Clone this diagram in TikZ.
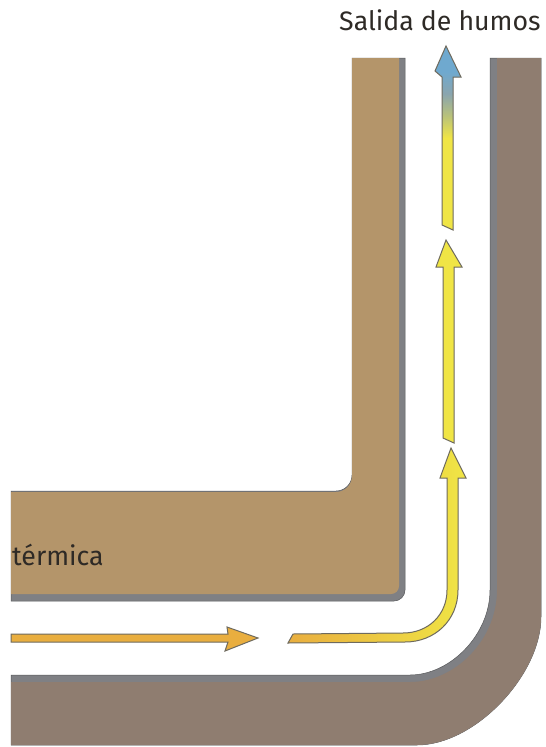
\documentclass[tikz,border=0pt]{standalone}
\usepackage{fontspec}
\setmainfont{Fira Sans}
\definecolor{tan1}{HTML}{B4956A}
\definecolor{brown1}{HTML}{8F7D70}
\definecolor{band}{HTML}{7F8084}
\definecolor{edge}{HTML}{6E6A5E}
\definecolor{ink}{HTML}{2E2A26}
\definecolor{orange1}{HTML}{E9AE3F}
\definecolor{yellow1}{HTML}{F0E545}
\definecolor{blue1}{HTML}{6FA9CF}
\definecolor{midA}{HTML}{B9C27A}
\definecolor{midB}{HTML}{8AA5AE}
\pgfdeclareverticalshading{smokeshade}{100bp}{
  color(0bp)=(yellow1); color(25bp)=(yellow1); color(50bp)=(yellow1);
  color(56bp)=(midA); color(62bp)=(midB); color(68bp)=(blue1); color(100bp)=(blue1)}
\tikzset{
  labeltext/.style={inner sep=0pt,text=ink,font=\fontsize{26.7}{30}\selectfont},
  bandfill/.style={fill=band,draw=band!70!black,line width=0.5pt},
  wallA/.style={fill=tan1,draw=none},
  wallB/.style={fill=brown1,draw=none},
  flow/.style={draw=edge,line width=1pt,line join=miter}
}
\begin{document}
\begin{tikzpicture}[x=1pt,y=-1pt]
\useasboundingbox (0,0) rectangle (546,747);
\fill[white] (0,0) rectangle (546,747);
% inner wall
\path[bandfill] (352,58) -- (405,58) -- (405,590) arc[start angle=0,end angle=90,radius=11] -- (11,601) -- (11,491)
  -- (336,491) arc[start angle=90,end angle=0,radius=16] -- cycle;
\path[wallA] (352,58) -- (399,58) -- (399,586) arc[start angle=0,end angle=90,radius=8] -- (11,594) -- (11,492)
  -- (336,492) arc[start angle=90,end angle=0,radius=16] -- cycle;
% outer wall
\path[bandfill] (490,58) -- (541,58) -- (541,617) .. controls (541,675) and (475,745) .. (417,745) -- (11,745) -- (11,675)
  -- (410,675) .. controls (450,675) and (490,635) .. (490,590) -- cycle;
\path[wallB] (497,58) -- (541,58) -- (541,617) .. controls (541,675) and (475,745) .. (417,745) -- (11,745) -- (11,682)
  -- (410,682) .. controls (455,682) and (497,640) .. (497,590) -- cycle;
% orange arrow
\path[flow,fill=orange1] (11,634) -- (228,634) -- (227,627) -- (258,638) -- (225,651) -- (228,642) -- (11,642) -- cycle;
% curved arrow
\path[flow,left color=orange1,middle color=yellow1,right color=yellow1]
  (293,634) -- (403,633) .. controls (428,633) and (447,615) .. (447,590) -- (447,478) -- (440,478) -- (451,448) -- (466,478)
  -- (458,478) -- (458,590) .. controls (458,620) and (435,642) .. (405,642) -- (288,643) -- cycle;
% third arrow
\path[flow,fill=yellow1] (443,438) -- (443,267) -- (436,267) -- (446,240) -- (462,267) -- (454,267) -- (454,443) -- cycle;
% top arrow
\path[flow,shading=smokeshade] (442,225) -- (442,77) -- (435,71) -- (446,46) -- (461,77) -- (453,77) -- (453,230) -- cycle;
% labels
\node[labeltext,anchor=base west] (salida) at (339,30) {Salida de humos};
\node[labeltext,anchor=base west] (termica) at (12,565) {térmica};
\end{tikzpicture}
\end{document}
